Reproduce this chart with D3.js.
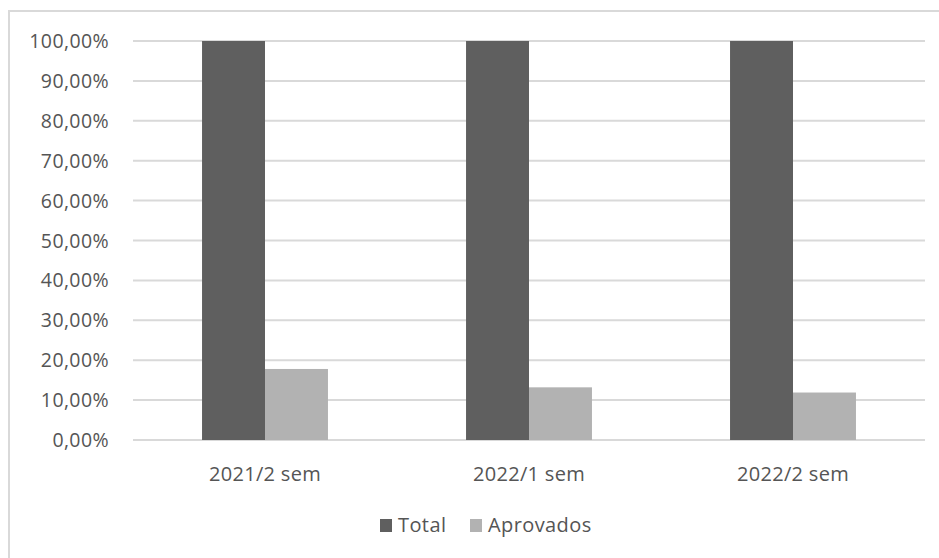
<!DOCTYPE html>
<html>
<head>
<meta charset="utf-8">
<script src="https://cdn.jsdelivr.net/npm/d3@7"></script>
<style>
  html, body { margin: 0; padding: 0; background: #fff; }
  svg { display: block; }
  text { font-family: "Open Sans", sans-serif; fill: #555555; }
</style>
</head>
<body>
<svg id="chart" width="939" height="558"></svg>
<script>
const categories = ["2021/2 sem", "2022/1 sem", "2022/2 sem"];
const seriesNames = ["Total", "Aprovados"];
const totalValues = [1.0, 1.0, 1.0];
const aprovadosValues = [0.178, 0.132, 0.119];
const yTicks = [0, 0.1, 0.2, 0.3, 0.4, 0.5, 0.6, 0.7, 0.8, 0.9, 1.0];
const colors = ["#5f5f5f", "#b2b2b2"];

const svg = d3.select("#chart");
const W = 939, H = 558;
const plot = { left: 133, right: 925, top: 41, bottom: 440 };

// outer frame
svg.append("rect")
  .attr("x", 9).attr("y", 11)
  .attr("width", W + 20).attr("height", H + 20)
  .attr("fill", "none").attr("stroke", "#d9d9d9").attr("stroke-width", 2);

const y = d3.scaleLinear().domain([0, 1]).range([plot.bottom, plot.top]);
const x0 = d3.scaleBand().domain(categories).range([plot.left, plot.right]).paddingInner(0).paddingOuter(0);
const groupW = x0.bandwidth() * 0.477;
const x1 = d3.scaleBand().domain(seriesNames).range([0, groupW]).padding(0);

const fmt = v => d3.format(".2f")(v * 100).replace(".", ",") + "%";

// gridlines
svg.append("g").selectAll("line").data(yTicks).join("line")
  .attr("x1", plot.left).attr("x2", plot.right)
  .attr("y1", d => y(d)).attr("y2", d => y(d))
  .attr("stroke", "#d9d9d9").attr("stroke-width", 2);

// y axis labels
svg.append("g").selectAll("text").data(yTicks).join("text")
  .attr("x", 109).attr("y", d => y(d))
  .attr("dy", "0.36em")
  .attr("text-anchor", "end")
  .attr("font-size", 19.5)
  .attr("letter-spacing", 0.4)
  .text(fmt);

// bars
const data = categories.map((c, i) => ({ cat: c, vals: [totalValues[i], aprovadosValues[i]] }));
const groups = svg.append("g").selectAll("g").data(data).join("g")
  .attr("transform", d => `translate(${x0(d.cat) + (x0.bandwidth() - groupW) / 2},0)`);
groups.selectAll("rect").data(d => d.vals.map((v, j) => ({ s: seriesNames[j], v, j }))).join("rect")
  .attr("x", d => x1(d.s))
  .attr("y", d => y(d.v))
  .attr("width", x1.bandwidth())
  .attr("height", d => y(0) - y(d.v))
  .attr("fill", d => colors[d.j]);

// x labels
svg.append("g").selectAll("text").data(categories).join("text")
  .attr("x", d => x0(d) + x0.bandwidth() / 2)
  .attr("y", 481)
  .attr("text-anchor", "middle")
  .attr("font-size", 20)
  .attr("letter-spacing", 0.3)
  .text(d => d);

// legend
const legendItems = [
  { name: seriesNames[0], color: colors[0], x: 380 },
  { name: seriesNames[1], color: colors[1], x: 470 }
];
const lg = svg.append("g").selectAll("g").data(legendItems).join("g")
  .attr("transform", d => `translate(${d.x},0)`);
lg.append("rect").attr("x", 0).attr("y", 519).attr("width", 12).attr("height", 13)
  .attr("fill", d => d.color);
lg.append("text").attr("x", 18).attr("y", 532).attr("font-size", 20)
  .attr("letter-spacing", 0.4)
  .text(d => d.name);
</script>
</body>
</html>
